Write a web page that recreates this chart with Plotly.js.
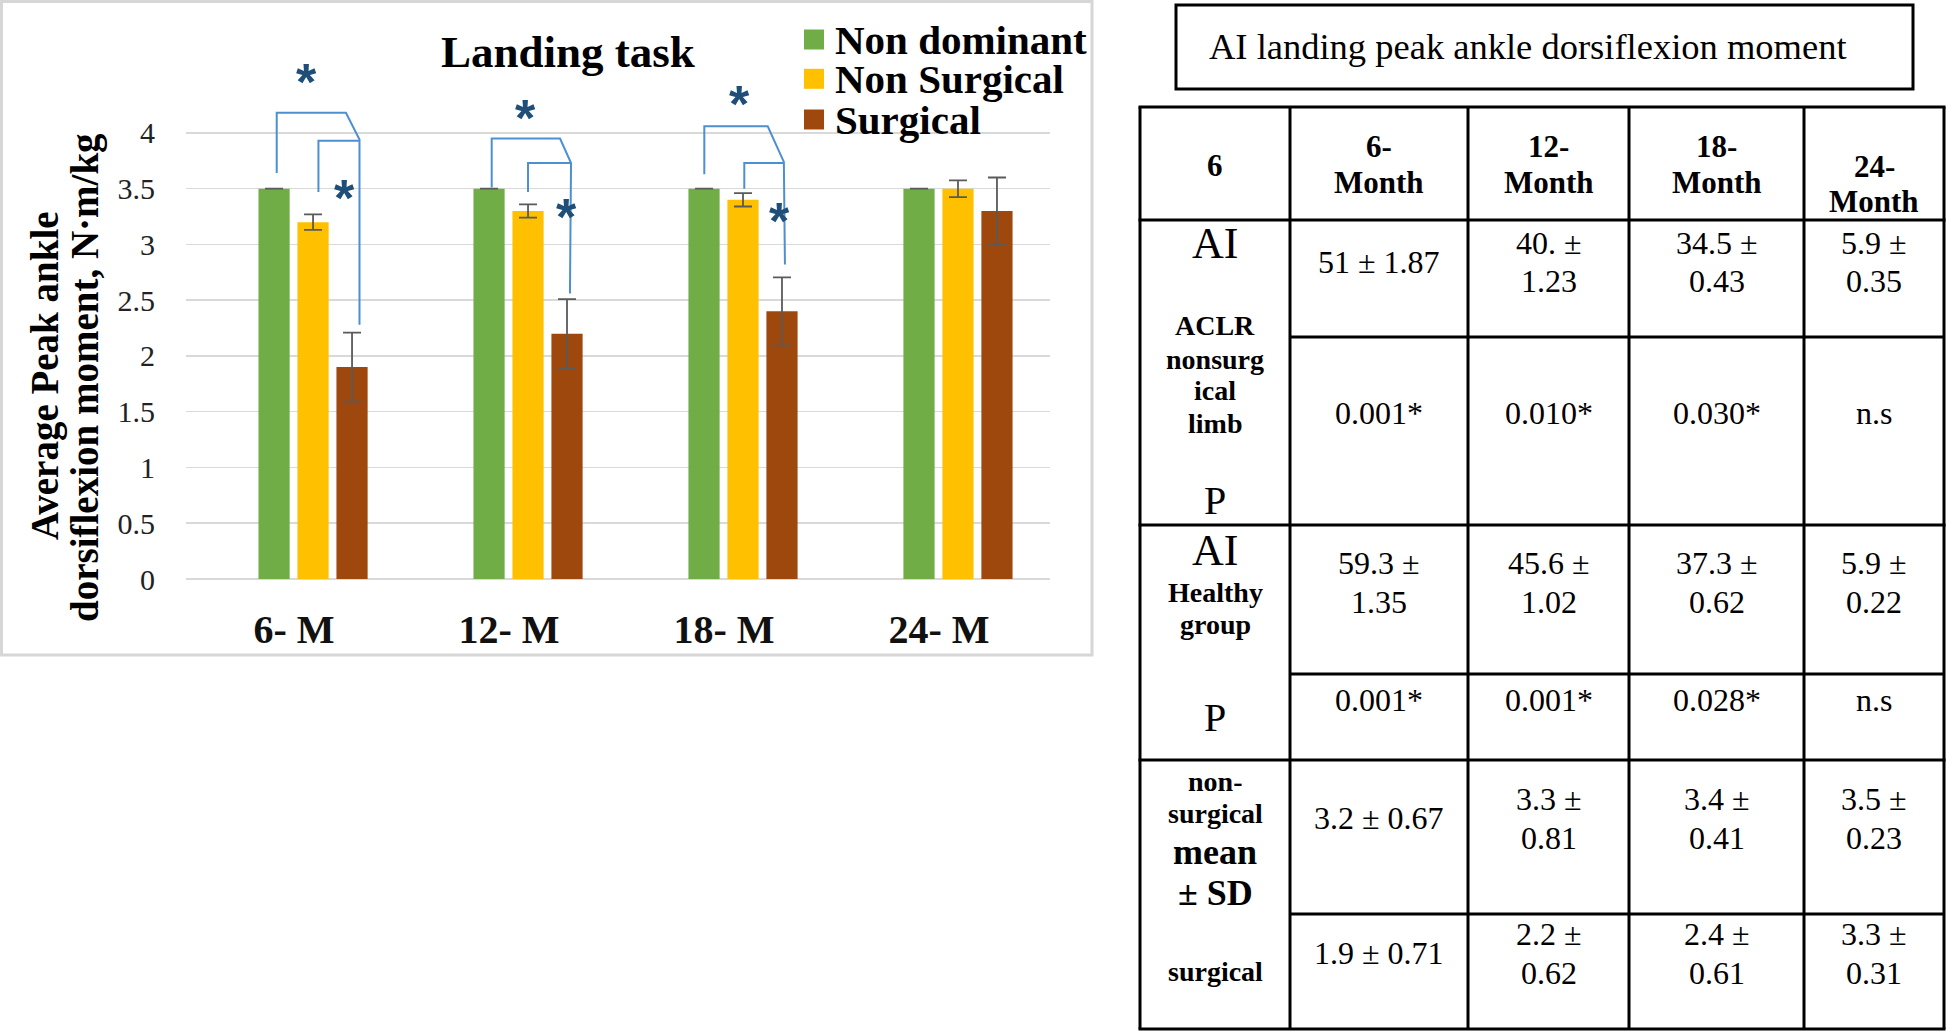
<!DOCTYPE html>
<html><head><meta charset="utf-8">
<script src="https://cdn.plot.ly/plotly-3.0.1.min.js"></script>
<style>html,body{margin:0;padding:0;background:#fff;overflow:hidden}#chart{width:1946px;height:1031px}</style>
</head><body><div id="chart"></div>
<script>
// ---------- chart data ----------
const categories = ["6- M", "12- M", "18- M", "24- M"];
const seriesNames = ["Non dominant", "Non Surgical", "Surgical"];
const nonDominant = [3.5, 3.5, 3.5, 3.5];
const nonDominantErr = [0, 0, 0, 0];
const nonSurgical = [3.2, 3.3, 3.4, 3.5];
const nonSurgicalErr = [0.07, 0.06, 0.06, 0.075];
const surgical = [1.9, 2.2, 2.4, 3.3];
const surgicalErr = [0.31, 0.31, 0.305, 0.30];
const yTicks = [0, 0.5, 1, 1.5, 2, 2.5, 3, 3.5, 4];
const chartTitle = "Landing task";
const yTitleLines = ["Average Peak ankle", "dorsiflexion moment, N\u00b7m/kg"];
const starText = "*";

// ---------- table data ----------
const tableTitle = "AI landing peak ankle dorsiflexion moment";
const headerCorner = "6";
const monthHeaders = ["6-<br>Month", "12-<br>Month", "18-<br>Month", "24-<br>Month"];
const aiNonsurgical = ["51 \u00b1 1.87", "40. \u00b1<br>1.23", "34.5 \u00b1<br>0.43", "5.9 \u00b1<br>0.35"];
const pNonsurgical = ["0.001*", "0.010*", "0.030*", "n.s"];
const aiHealthy = ["59.3 \u00b1<br>1.35", "45.6 \u00b1<br>1.02", "37.3 \u00b1<br>0.62", "5.9 \u00b1<br>0.22"];
const pHealthy = ["0.001*", "0.001*", "0.028*", "n.s"];
const meanNonSurgical = ["3.2 \u00b1 0.67", "3.3 \u00b1<br>0.81", "3.4 \u00b1<br>0.41", "3.5 \u00b1<br>0.23"];
const meanSurgical = ["1.9 \u00b1 0.71", "2.2 \u00b1<br>0.62", "2.4 \u00b1<br>0.61", "3.3 \u00b1<br>0.31"];
const labelsACLR = ["AI", "ACLR", "nonsurg", "ical", "limb", "P"];
const labelsHealthy = ["AI", "Healthy", "group", "P"];
const labelsMean = ["non-", "surgical", "mean", "\u00b1 SD", "surgical"];

// ---------- layout helpers ----------
const W = 1946, H = 1031;
const px = x => x / W, py = y => 1 - y / H;
const colors = ["#70AD47", "#FFC000", "#9E480E"];
const serif = "Liberation Serif, Times New Roman, serif";
const idx = categories.map((c, i) => i);

function mkBar(name, y, err, color) {
  return {
    type: "bar", name: name, x: idx, y: y,
    marker: {color: color, line: {width: 0}},
    error_y: {type: "data", array: err, visible: true, color: "#5a5a5a", thickness: 1.8, width: 9},
    hoverinfo: "skip", showlegend: false
  };
}
const traces = [
  mkBar(seriesNames[0], nonDominant, nonDominantErr, colors[0]),
  mkBar(seriesNames[1], nonSurgical, nonSurgicalErr, colors[1]),
  mkBar(seriesNames[2], surgical, surgicalErr, colors[2])
];

const shapes = [];
const annotations = [];

function txt(text, x, y, size, bold, extra) {
  return Object.assign({
    xref: "paper", yref: "paper", x: px(x), y: py(y), text: text, showarrow: false,
    xanchor: "center", yanchor: "middle",
    font: {family: serif, size: size, color: "#000", weight: bold ? 700 : 400}
  }, extra || {});
}
function cell(text, cx, cy, size, bold, gap) {
  const lines = text.split("<br>");
  const n = lines.length;
  lines.forEach((t, i) => annotations.push(txt(t, cx, cy + (i - (n - 1) / 2) * gap, size, bold)));
}

// chart frame
shapes.push({type: "rect", xref: "paper", yref: "paper", x0: px(1.5), x1: px(1092), y0: py(1.5), y1: py(655),
  line: {color: "#d6d6d6", width: 3}, layer: "below"});

// chart title
annotations.push(txt(chartTitle, 568, 52, 45, true));

// y-axis title (two rotated lines)
annotations.push(txt(yTitleLines[0], 45, 376, 39, true, {textangle: -90}));
annotations.push(txt(yTitleLines[1], 85, 378, 39, true, {textangle: -90}));

// legend
const legY = [39.5, 78.8, 119.5];
seriesNames.forEach((n, i) => {
  shapes.push({type: "rect", xref: "paper", yref: "paper", x0: px(804), x1: px(824), y0: py(legY[i] - 10), y1: py(legY[i] + 10),
    fillcolor: colors[i], line: {width: 0}});
  annotations.push(txt(n, 833, legY[i], 41, true, {xanchor: "left"}));
});

// significance brackets (x offset from group index, y in data units)
const bracketColor = "#4d8fd1";
const brackets = [
  {g: 0, outer: [[-0.169, 3.64], [-0.169, 4.18], [0.153, 4.18], [0.216, 3.94], [0.216, 2.28]],
         inner: [[0.025, 3.47], [0.025, 3.93], [0.216, 3.93]],
         stars: [[-0.029, 4.56], [0.144, 3.52]]},
  {g: 1, outer: [[-0.169, 3.51], [-0.169, 3.95], [0.149, 3.95], [0.2, 3.73], [0.195, 2.56]],
         inner: [[0.0, 3.47], [0.0, 3.73], [0.2, 3.73]],
         stars: [[-0.01, 4.24], [0.18, 3.35]]},
  {g: 2, outer: [[-0.18, 3.63], [-0.18, 4.06], [0.115, 4.06], [0.19, 3.74], [0.195, 2.82]],
         inner: [[0.006, 3.50], [0.006, 3.73], [0.19, 3.73]],
         stars: [[-0.017, 4.37], [0.172, 3.32]]}
];
brackets.forEach(b => {
  [b.outer, b.inner].forEach(pts => {
    const path = pts.map((p, k) => (k ? "L" : "M") + (b.g + p[0]) + "," + p[1]).join(" ");
    shapes.push({type: "path", xref: "x", yref: "y", path: path, line: {color: bracketColor, width: 2}});
  });
  b.stars.forEach(s => annotations.push({
    xref: "x", yref: "y", x: b.g + s[0], y: s[1], text: starText, showarrow: false,
    xanchor: "center", yanchor: "middle", yshift: -12,
    font: {family: "Liberation Sans, Arial, sans-serif", size: 52, color: "#1F4E79", weight: 700}
  }));
});

// ---------- table ----------
shapes.push({type: "rect", xref: "paper", yref: "paper", x0: px(1176), x1: px(1913), y0: py(5), y1: py(89),
  line: {color: "#000", width: 3}});
annotations.push(txt(tableTitle, 1207, 46, 36.5, false, {xanchor: "left"}));

const colX = [1140, 1290, 1468, 1629, 1804, 1944];
const rowY = [107, 220, 337, 525, 674, 760, 914, 1029];
const fullRows = [0, 1, 3, 5, 7], partRows = [2, 4, 6];
fullRows.forEach(r => shapes.push({type: "line", xref: "paper", yref: "paper", x0: px(colX[0] - 1.5), x1: px(colX[5] + 1.5),
  y0: py(rowY[r]), y1: py(rowY[r]), line: {color: "#000", width: 3}}));
partRows.forEach(r => shapes.push({type: "line", xref: "paper", yref: "paper", x0: px(colX[1]), x1: px(colX[5]),
  y0: py(rowY[r]), y1: py(rowY[r]), line: {color: "#000", width: 3}}));
colX.forEach(x => shapes.push({type: "line", xref: "paper", yref: "paper", x0: px(x), x1: px(x),
  y0: py(rowY[0]), y1: py(rowY[7]), line: {color: "#000", width: 3}}));

const colC = [1215, 1379, 1548.5, 1716.5, 1874];
// header
cell(headerCorner, colC[0], 165, 31, true, 35);
const headerCY = [164.5, 164.5, 164.5, 184];
monthHeaders.forEach((t, i) => cell(t, colC[i + 1], headerCY[i], 31, true, 35));
// value rows
const valueRows = [
  {data: aiNonsurgical, cy: 262},
  {data: pNonsurgical, cy: 413},
  {data: aiHealthy, cy: 582},
  {data: pHealthy, cy: 700},
  {data: meanNonSurgical, cy: 818},
  {data: meanSurgical, cy: 953}
];
valueRows.forEach(r => r.data.forEach((t, i) => cell(t, colC[i + 1], r.cy, 32, false, 39)));
// row labels
const styleACLR = [[244, 44, false], [325, 28, true], [359, 28, true], [391, 28, true], [423, 28, true], [500, 40, false]];
labelsACLR.forEach((t, i) => annotations.push(txt(t, colC[0], styleACLR[i][0], styleACLR[i][1], styleACLR[i][2])));
const styleHealthy = [[550, 44, false], [592, 28, true], [624, 28, true], [717, 40, false]];
labelsHealthy.forEach((t, i) => annotations.push(txt(t, colC[0], styleHealthy[i][0], styleHealthy[i][1], styleHealthy[i][2])));
const styleMean = [[781, 28, true], [813, 28, true], [852, 36, true], [893, 36, true], [971, 28, true]];
labelsMean.forEach((t, i) => annotations.push(txt(t, colC[0], styleMean[i][0], styleMean[i][1], styleMean[i][2])));

const layout = {
  width: W, height: H, margin: {l: 0, r: 0, t: 0, b: 0},
  paper_bgcolor: "#fff", plot_bgcolor: "rgba(0,0,0,0)",
  barmode: "group", bargap: 0.456, bargroupgap: 0.2, showlegend: false,
  xaxis: {domain: [px(186), px(1050)], range: [-0.591, 3.428], tickmode: "array", tickvals: idx, ticktext: categories,
    showgrid: false, zeroline: false, showline: false, ticks: "", ticklabelshift: -19, ticklabelstandoff: 23,
    tickfont: {family: serif, size: 40, color: "#111", weight: 700}, fixedrange: true},
  yaxis: {domain: [py(579), py(66)], range: [0, 4.6], tickmode: "array", tickvals: yTicks,
    showgrid: true, gridcolor: "#d9d9d9", gridwidth: 1.5, zeroline: true, zerolinecolor: "#d9d9d9", zerolinewidth: 1.5,
    showline: false, ticks: "", ticklabelstandoff: 30,
    tickfont: {family: serif, size: 30, color: "#222"}, fixedrange: true},
  shapes: shapes, annotations: annotations
};
Plotly.newPlot("chart", traces, layout, {displayModeBar: false, staticPlot: true});
</script></body></html>
